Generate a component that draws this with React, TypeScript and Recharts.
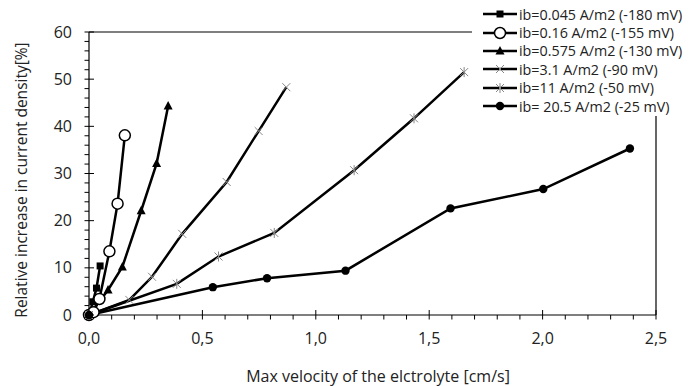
import React from 'react';
import { LineChart, Line, XAxis, YAxis, Legend, Label } from 'recharts';

// Series data: [velocity cm/s, relative increase %]
const s045 = [
  { x: 0, y: 0 }, { x: 0.017, y: 2.8 }, { x: 0.033, y: 5.7 }, { x: 0.049, y: 10.4 },
];
const s016 = [
  { x: 0, y: 0 }, { x: 0.02, y: 0.6 }, { x: 0.046, y: 3.4 }, { x: 0.09, y: 13.5 },
  { x: 0.126, y: 23.6 }, { x: 0.158, y: 38.1 },
];
const s0575 = [
  { x: 0, y: 0 }, { x: 0.084, y: 5.3 }, { x: 0.147, y: 10.2 }, { x: 0.23, y: 22.1 },
  { x: 0.298, y: 32.1 }, { x: 0.349, y: 44.3 },
];
const s31 = [
  { x: 0, y: 0 }, { x: 0.178, y: 3.2 }, { x: 0.278, y: 8.1 }, { x: 0.411, y: 17.2 },
  { x: 0.607, y: 28.2 }, { x: 0.748, y: 39.0 }, { x: 0.87, y: 48.3 },
];
const s11 = [
  { x: 0, y: 0 }, { x: 0.387, y: 6.6 }, { x: 0.571, y: 12.4 }, { x: 0.817, y: 17.4 },
  { x: 1.169, y: 30.7 }, { x: 1.433, y: 41.7 }, { x: 1.654, y: 51.5 },
];
const s205 = [
  { x: 0, y: 0 }, { x: 0.546, y: 5.9 }, { x: 0.785, y: 7.8 }, { x: 1.131, y: 9.4 },
  { x: 1.594, y: 22.6 }, { x: 2.003, y: 26.7 }, { x: 2.385, y: 35.3 },
];

const seriesNames = [
  'ib=0.045 A/m2 (-180 mV)',
  'ib=0.16 A/m2 (-155 mV)',
  'ib=0.575 A/m2 (-130 mV)',
  'ib=3.1 A/m2 (-90 mV)',
  'ib=11 A/m2 (-50 mV)',
  'ib= 20.5 A/m2 (-25 mV)',
];
const seriesMarkers = ['square', 'circleOpen', 'triangle', 'cross', 'star', 'dot'];
const seriesData = [s045, s016, s0575, s31, s11, s205];

const xTickLabels = ['0,0', '0,5', '1,0', '1,5', '2,0', '2,5'];
const yTickLabels = ['0', '10', '20', '30', '40', '50', '60'];
const xTicks: number[] = [];
for (let i = 0; i <= 25; i++) xTicks.push(i / 10);
const yTicks: number[] = [];
for (let i = 0; i <= 30; i++) yTicks.push(i * 2);

const FONT = '"Open Sans", sans-serif';
const TXT = '#222';

function Marker({ kind, cx, cy }: { kind: string; cx: number; cy: number }) {
  if (cx == null || cy == null) return null;
  switch (kind) {
    case 'square':
      return <rect x={cx - 3.5} y={cy - 3.5} width={7} height={7} fill="#000" />;
    case 'circleOpen':
      return <circle cx={cx} cy={cy} r={5.5} fill="#fff" stroke="#000" strokeWidth={1.5} />;
    case 'triangle':
      return <path d={`M${cx},${cy - 5} L${cx + 4.5},${cy + 3.5} L${cx - 4.5},${cy + 3.5} Z`} fill="#000" />;
    case 'cross':
      return (
        <g stroke="#888" strokeWidth={1}>
          <line x1={cx - 4} y1={cy - 4} x2={cx + 4} y2={cy + 4} />
          <line x1={cx - 4} y1={cy + 4} x2={cx + 4} y2={cy - 4} />
        </g>
      );
    case 'star':
      return (
        <g stroke="#888" strokeWidth={1}>
          <line x1={cx - 4} y1={cy - 4} x2={cx + 4} y2={cy + 4} />
          <line x1={cx - 4} y1={cy + 4} x2={cx + 4} y2={cy - 4} />
          <line x1={cx} y1={cy - 5} x2={cx} y2={cy + 5} />
        </g>
      );
    default:
      return <circle cx={cx} cy={cy} r={4.2} fill="#000" />;
  }
}

const isMajorX = (v: number) => Math.abs(v * 2 - Math.round(v * 2)) < 1e-6;
const isMajorY = (v: number) => Math.abs(v / 10 - Math.round(v / 10)) < 1e-6;

const BottomTick = (p: any) => {
  const { x, y, payload } = p;
  const v = payload.value;
  const major = isMajorX(v);
  return (
    <g>
      <line x1={x} x2={x} y1={major ? y - 5 : y} y2={y + 4.5} stroke="#000" strokeWidth={1} />
      {major && (
        <text x={x} y={y + 29} textAnchor="middle" fontFamily={FONT} fontSize={16} fill={TXT}>
          {xTickLabels[Math.round(v * 2)]}
        </text>
      )}
    </g>
  );
};

const TopTick = (p: any) => {
  const { x, y, payload } = p;
  const major = isMajorX(payload.value);
  return <line x1={x} x2={x} y1={y - 4.5} y2={major ? y + 5 : y} stroke="#000" strokeWidth={1} />;
};

const LeftTick = (p: any) => {
  const { x, y, payload } = p;
  const v = payload.value;
  const major = isMajorY(v);
  return (
    <g>
      <line x1={x - 4.5} x2={major ? x + 5 : x} y1={y} y2={y} stroke="#000" strokeWidth={1} />
      {major && (
        <text x={x - 17} y={y + 5.5} textAnchor="end" fontFamily={FONT} fontSize={16} fill={TXT}>
          {yTickLabels[Math.round(v / 10)]}
        </text>
      )}
    </g>
  );
};

const RightTick = (p: any) => {
  const { x, y, payload } = p;
  const major = isMajorY(payload.value);
  return <line x1={major ? x - 5 : x} x2={x + 4.5} y1={y} y2={y} stroke="#000" strokeWidth={1} />;
};

const LegendBox = () => (
  <div style={{ paddingTop: 5, fontFamily: FONT, fontSize: 14.3, color: TXT }}>
    {seriesNames.map((n, i) => (
      <div key={n} style={{ height: 18.4, display: 'flex', alignItems: 'center', whiteSpace: 'nowrap' }}>
        <svg width={46} height={18} style={{ flex: 'none' }}>
          <line x1={11} x2={45} y1={9} y2={9} stroke="#000" strokeWidth={2.5} />
          <Marker kind={seriesMarkers[i]} cx={28} cy={9} />
        </svg>
        <span style={{ marginLeft: 1 }}>{n}</span>
      </div>
    ))}
  </div>
);

export default function App() {
  return (
    <div style={{ position: 'absolute', left: 0, top: 0, width: 694, height: 386, background: '#fff' }}>
      <LineChart width={694} height={386} margin={{ top: 0, right: 0, bottom: 0, left: 0 }}>
        <XAxis
          xAxisId="main"
          dataKey="x"
          type="number"
          domain={[0, 2.5]}
          ticks={xTicks}
          interval={0}
          height={71}
          tickSize={0}
          tickMargin={0}
          tickLine={false}
          axisLine={{ stroke: '#000', strokeWidth: 1.2 }}
          tick={<BottomTick />}
        >
          <Label
            content={() => (
              <text x={378} y={382} textAnchor="middle" fontFamily={FONT} fontSize={16} fill={TXT}>
                Max velocity of the elctrolyte [cm/s]
              </text>
            )}
          />
        </XAxis>
        <XAxis
          xAxisId="top"
          orientation="top"
          dataKey="x"
          type="number"
          domain={[0, 2.5]}
          ticks={xTicks}
          interval={0}
          height={32}
          tickSize={0}
          tickMargin={0}
          tickLine={false}
          axisLine={{ stroke: '#000', strokeWidth: 1.2 }}
          tick={<TopTick />}
        />
        <YAxis
          yAxisId="main"
          type="number"
          domain={[0, 60]}
          ticks={yTicks}
          interval={0}
          width={89}
          tickSize={0}
          tickMargin={0}
          tickLine={false}
          axisLine={{ stroke: '#000', strokeWidth: 1.2 }}
          tick={<LeftTick />}
        >
          <Label
            content={() => (
              <text
                x={27}
                y={180}
                transform="rotate(-90, 27, 180)"
                textAnchor="middle"
                fontFamily={FONT}
                fontSize={15.5}
                fill={TXT}
              >
                Relative increase in current density[%]
              </text>
            )}
          />
        </YAxis>
        <YAxis
          yAxisId="right"
          orientation="right"
          type="number"
          domain={[0, 60]}
          ticks={yTicks}
          interval={0}
          width={38}
          tickSize={0}
          tickMargin={0}
          tickLine={false}
          axisLine={{ stroke: '#000', strokeWidth: 1.2 }}
          tick={<RightTick />}
        />
        {seriesData.map((d, i) => (
          <Line
            key={seriesNames[i]}
            xAxisId="main"
            yAxisId="main"
            data={d}
            dataKey="y"
            name={seriesNames[i]}
            stroke="#000"
            strokeWidth={2.5}
            isAnimationActive={false}
            dot={(p: any) => <Marker key={`${i}-${p.index}`} kind={seriesMarkers[i]} cx={p.cx} cy={p.cy} />}
            activeDot={false}
          />
        ))}
        <Legend
          layout="horizontal"
          verticalAlign="middle"
          align="center"
          content={() => <LegendBox />}
          wrapperStyle={{ position: 'absolute', top: 0, left: 472, width: 222, height: 116, background: '#fff' }}
        />
      </LineChart>
    </div>
  );
}
